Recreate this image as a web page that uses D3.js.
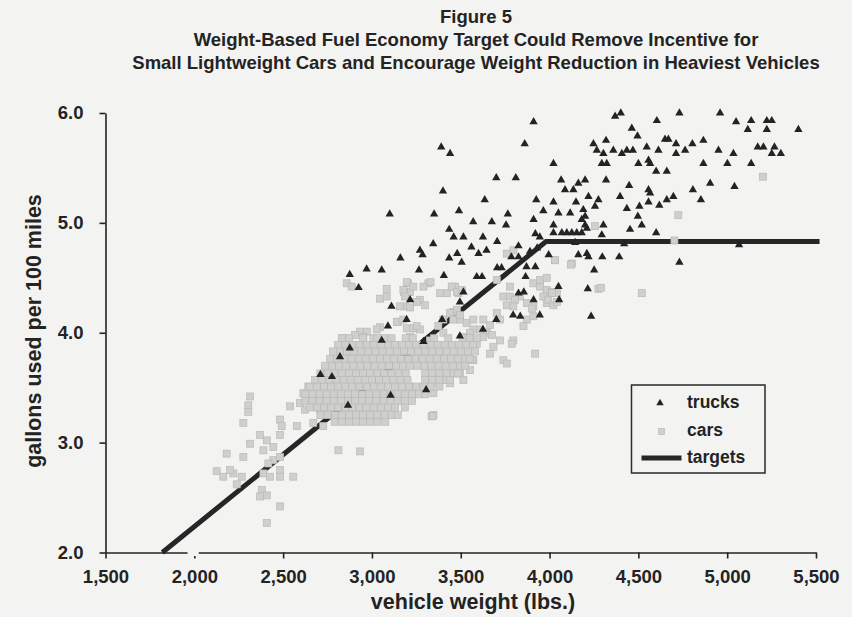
<!DOCTYPE html>
<html><head><meta charset="utf-8">
<script src="https://cdn.jsdelivr.net/npm/d3@7"></script>
<style>
html,body{margin:0;padding:0;background:#f3f3f1;}
svg{display:block;}
text{font-family:"Liberation Sans",Arial,sans-serif;fill:#232323;}
</style></head><body>
<svg id="c" width="852" height="617"></svg>
<script>
const titleLines = ["Figure 5",
  "Weight-Based Fuel Economy Target Could Remove Incentive for",
  "Small Lightweight Cars and Encourage Weight Reduction in Heaviest Vehicles"];
const xLabel = "vehicle weight (lbs.)";
const yLabel = "gallons used per 100 miles";
const xTicks = [1500,2000,2500,3000,3500,4000,4500,5000,5500];
const yTicks = [2,3,4,5,6];
const legendLabels = ["trucks","cars","targets"];

const targetWeights = [1820, 3980, 5520];
const targetValues  = [2.00, 4.83, 4.83];

const trucks = [
[3910,5.92],[3390,5.69],[3440,5.63],[3860,5.72],[3700,5.41],[3810,5.41],
[3400,5.29],[3635,5.21],[3925,5.21],[3100,5.08],[3350,5.08],[3490,5.11],[3765,5.08],[3965,5.11],[3910,5.03],
[3570,5.01],[3675,5.01],[3755,4.98],[3435,4.94],[3460,4.87],[3515,4.87],[3625,4.87],[3705,4.83],
[3345,4.81],[3560,4.78],[3645,4.75],[3825,4.79],[3270,4.75],[3285,4.71],[3480,4.72],[3600,4.72],
[3160,4.68],[3435,4.68],[3505,4.64],[3785,4.69],[3825,4.69],[3890,4.74],[3930,4.77],
[3920,4.90],[3945,4.87],[3995,4.71],
[2970,4.58],[3055,4.57],[3265,4.57],[3405,4.52],[3590,4.51],[3620,4.51],[3705,4.59],[3730,4.59],[3870,4.60],[3920,4.60],[3865,4.51],
[2875,4.53],[2925,4.41],[3515,4.37],[3825,4.36],[3855,4.37],
[3110,4.24],[3215,4.30],[3495,4.28],[3910,4.30],
[3795,4.16],[3835,4.15],[3945,4.16],[3700,4.12],
[3195,4.12],[3090,4.06],[3395,4.12],[3625,4.03],
[2875,3.86],[3290,3.92],[3495,3.97],[3055,3.93],
[2820,3.78],[2710,3.62],[2775,3.60],[3105,3.43],[3305,3.48],[2865,3.34],
[4369,5.97],[4401,6.00],[4604,5.93],[4731,6.00],[4960,6.00],[5050,5.92],[5135,5.93],[5223,5.93],[5251,5.93],[5223,5.85],[5116,5.85],[5401,5.85],
[4463,5.86],[4495,5.79],[4247,5.72],[4266,5.66],[4318,5.75],[4359,5.66],[4303,5.63],[4407,5.63],[4435,5.66],[4469,5.66],
[4547,5.69],[4613,5.66],[4650,5.76],[4669,5.76],[4712,5.72],[4712,5.63],[4763,5.66],[4804,5.72],[4866,5.75],
[4951,5.66],[5035,5.63],[5172,5.69],[5204,5.69],[5266,5.69],[5251,5.63],[5302,5.63],
[4294,5.54],[4322,5.54],[4500,5.54],[4557,5.57],[4566,5.54],[4022,5.54],
[4600,5.47],[4660,5.47],[4866,5.54],[5001,5.54],[5135,5.54],
[4065,5.39],[4087,5.30],[4134,5.30],[4162,5.36],[4200,5.39],[4318,5.39],[4448,5.34],[4557,5.30],[4566,5.27],[4807,5.30],[4904,5.36],[5041,5.33],
[4022,5.19],[4149,5.19],[4219,5.24],[4275,5.21],[4256,5.15],[4397,5.24],[4435,5.13],[4506,5.15],[4557,5.19],[4618,5.16],[4660,5.21],[4697,5.24],[4852,5.21],
[4050,5.09],[4116,5.09],[4190,5.12],[4200,5.06],[4181,5.03],[4497,5.06],
[4022,4.98],[4200,4.98],[4210,4.95],[4303,4.98],[4453,4.94],[4519,4.98],[4600,4.91],
[4022,4.91],[4069,4.91],[4097,4.91],[4125,4.91],[4153,4.91],[4181,4.91],[4294,4.89],
[4144,4.82],[4420,4.81],[5067,4.80],
[4162,4.71],[4210,4.72],[4219,4.69],[4297,4.69],[4392,4.69],[4731,4.64],[4251,4.57],
[4050,4.42],[4215,4.40],[4054,4.30],[4234,4.15]
];

// dense core of cars, as rows: [gallons, weights...]
const carCoreRows = [
 [3.95,[2830,2870,2950,3030,3070,3110,3190,3230,3350,3430,3510,3550,3590]],
 [3.89,[2810,2850,2890,2930,2970,3010,3050,3090,3130,3170,3210,3250,3290,3330,3370,3410,3450,3490,3530,3570]],
 [3.83,[2780,2820,2860,2900,2940,2980,3020,3060,3100,3140,3180,3220,3260,3300,3340,3380,3420,3460,3500,3540,3580]],
 [3.76,[2765,2805,2845,2885,2925,2965,3005,3045,3085,3125,3165,3205,3245,3285,3325,3365,3405,3445,3485,3525,3550]],
 [3.70,[2735,2775,2815,2855,2895,2935,2975,3015,3055,3095,3135,3175,3215,3255,3295,3335,3375,3415,3455,3495,3525]],
 [3.63,[2710,2750,2790,2830,2870,2910,2950,2990,3030,3070,3110,3150,3190,3300,3340,3380,3420,3460,3485]],
 [3.57,[2680,2720,2760,2800,2840,2880,2920,2960,3000,3040,3080,3120,3160,3200,3300,3340,3380,3420,3440]],
 [3.51,[2650,2690,2730,2770,2810,2850,2890,2930,2970,3010,3050,3090,3130,3170,3210,3250,3290,3330,3380]],
 [3.44,[2625,2665,2705,2745,2785,2825,2865,2905,2945,2985,3025,3065,3105,3145,3185,3225,3265,3300]],
 [3.38,[2625,2665,2705,2745,2785,2825,2865,2905,2945,2985,3025,3065,3105,3145,3185,3225]],
 [3.32,[2650,2690,2730,2770,2810,2850,2890,2930,2970,3010,3050,3090,3130,3185]],
 [3.25,[2710,2750,2790,2830,2870,2910,2950,2990,3030,3070,3110,3145]],
 [3.19,[2790,2830,2870,2910,2950,2990,3030,3075]]
];

const carsOther = [
[2858,4.45],[2886,4.42],[3083,4.40],[3046,4.31],[3203,4.45],[3215,4.37],[3181,4.37],[3318,4.45],[3290,4.42],[3384,4.36],[3421,4.36],[3468,4.42],[3487,4.36],[3271,4.30],[3186,4.24],[3215,4.23],[3149,4.10],[3196,4.04],[3243,4.04],[3271,4.03],[3046,4.05],[2933,4.01],[2971,4.01],[2905,3.98],[2952,3.96],[2839,3.95],[3008,3.95],[3046,3.92],[3458,4.19],[3496,4.12],[3533,4.09],[3571,4.12],[3571,4.03],[3552,3.96],[3590,3.90],[3533,3.87],[3571,3.75],
[3346,3.25],[2811,2.93],[2933,2.92],[2670,3.18],[2726,3.15],[2483,3.21],[2492,3.15],[2483,3.07],[2577,3.15],[2539,3.33],[2623,3.30],[2614,3.45],[2642,3.51],[2314,3.42],[2304,3.34],[2304,3.28],[2276,3.18],[2314,2.99],[2370,3.07],[2408,3.02],[2445,2.96],[2389,2.93],[2182,2.90],[2276,2.87],[2445,2.84],[2417,2.81],[2483,2.87],[2126,2.74],[2163,2.69],[2220,2.72],[2267,2.69],[2201,2.75],[2389,2.72],[2426,2.69],[2483,2.69],[2557,2.69],[2483,2.75],[2239,2.62],[2380,2.57],[2370,2.51],[2408,2.52],[2483,2.42],[2408,2.27],[3336,3.24],
[2708,3.30],[2661,3.39],[2746,3.54],[2595,3.36],[2708,3.40],
[3196,4.46],[3330,4.46],[3083,4.33],[3252,4.28],[3299,4.25],[3449,4.42],[3478,4.37],[3140,4.10],[3233,4.04],[3027,4.03],[3215,3.96],[3327,3.93],[3402,4.00],[3647,4.00],[3721,3.93],[3796,3.93],[3740,4.33],[3834,4.33],[3909,4.45],[3947,4.42],[3984,4.37],[4041,4.36],[3984,4.27],[3909,4.24],[3872,4.12],[3759,4.72],[3796,4.75],[4031,4.66],[4125,4.63],[3703,4.48],
[3778,4.42],[3947,4.48],[3984,4.50],[3984,4.39],[4013,4.37],[3965,4.33],[3993,4.30],[4022,4.25],[4041,4.28],[3872,4.27],[3900,4.22],[3778,4.33],[3806,4.30],[3759,4.25],[3796,4.24],[3703,4.18],[3721,4.12],[3909,4.15],[3853,4.06],[3665,4.07],[3675,3.98],[3627,3.96],[3552,4.00],[3524,3.96],[3787,3.90],[3740,3.75],[3759,3.72],[3919,3.81],[3665,3.81],[3684,3.87],[3562,3.75],[3552,3.66],[3496,3.63],[3515,3.57],[3440,3.54],[3402,3.57],[3355,3.54],[3346,3.45],[3233,3.48],[3196,3.45],[3215,3.51],[3342,3.24],[3487,3.65],[3609,4.03],[3627,4.12],[3177,4.39],[3233,4.42],[3186,4.33],[3507,4.39],[3158,4.24],[3177,4.12],[3252,4.06],[3440,4.18],[3478,4.21],[3496,4.16],[3458,4.12],[3402,4.12],[3374,4.06],[4275,4.40],
[5201,5.42],[4725,5.07],[4256,4.97],[4703,4.84],[4031,4.66],[4120,4.62],[4290,4.41],[4519,4.36],[4013,4.36]
];

const cars = carsOther.concat(...carCoreRows.map(r => r[1].map(w => [w, r[0]])));

const svg = d3.select("#c");
const x = d3.scaleLinear().domain([1500,5500]).range([105.5,816]);
const y = d3.scaleLinear().domain([2,6]).range([552.5,113]);
const ink = "#232323";
const carFill = "#cfcfcd", carEdge = "#b9b9b7";

// title
svg.append("g").selectAll("text").data(titleLines).join("text")
  .attr("x", 476).attr("y", (d,i) => 23 + i*23)
  .attr("text-anchor","middle").attr("font-weight","bold").attr("font-size", 18.5)
  .text(d => d);

// target line (drawn below markers)
const lineData = targetWeights.map((w,i) => [w, targetValues[i]]);
svg.append("path").datum(lineData)
  .attr("d", d3.line().x(d => x(d[0])).y(d => y(d[1])))
  .attr("fill","none").attr("stroke","#262626").attr("stroke-width",5);

// cars
svg.append("g").selectAll("rect").data(cars).join("rect")
  .attr("x", d => x(d[0]) - 3.5).attr("y", d => y(d[1]) - 3.5)
  .attr("width", 7).attr("height", 7)
  .attr("fill", carFill).attr("stroke", carEdge).attr("stroke-width", 0.7);

// trucks
const tri = d3.symbol().type(d3.symbolTriangle).size(30);
svg.append("g").selectAll("path").data(trucks).join("path")
  .attr("transform", d => `translate(${x(d[0])},${y(d[1])})`)
  .attr("d", tri).attr("fill", ink);

// axes
const yAxis = svg.append("g").attr("transform", `translate(${x(1500)},0)`)
  .call(d3.axisLeft(y).tickValues(yTicks).tickFormat(d3.format(".1f")).tickSize(6).tickSizeOuter(0).tickPadding(16));
const xAxis = svg.append("g").attr("transform", `translate(0,${y(2)})`)
  .call(d3.axisBottom(x).tickValues(xTicks).tickFormat(d3.format(",")).tickSize(6).tickSizeOuter(0).tickPadding(11));
[yAxis, xAxis].forEach(a => {
  a.selectAll("path,line").attr("stroke", ink).attr("stroke-width", 1.6);
  a.selectAll("text").attr("font-size", 18.5).attr("font-weight","bold")
    .attr("font-family", '"Liberation Sans",Arial,sans-serif').attr("fill", ink);
});
// scan gap in the x axis line near 2,000
svg.append("rect").attr("x", x(1962)).attr("y", y(2) - 3).attr("width", x(2025) - x(1962)).attr("height", 6.5)
  .attr("fill", "#f3f3f1");

// axis titles
svg.append("text").attr("x", 473).attr("y", 609).attr("text-anchor","middle")
  .attr("font-size", 21.5).attr("font-weight","bold").text(xLabel);
svg.append("text").attr("transform", "translate(41,331) rotate(-90)").attr("text-anchor","middle")
  .attr("font-size", 21.5).attr("font-weight","bold").text(yLabel);

// legend
const lg = svg.append("g");
lg.append("rect").attr("x", 631.5).attr("y", 385).attr("width", 133.5).attr("height", 88)
  .attr("fill","none").attr("stroke","#2a2a2a").attr("stroke-width",1.5);
lg.append("path").attr("transform","translate(660,403)").attr("d", d3.symbol().type(d3.symbolTriangle).size(24)).attr("fill", ink);
lg.append("rect").attr("x", 658.5).attr("y", 428.5).attr("width", 6).attr("height", 6)
  .attr("fill", carFill).attr("stroke", carEdge).attr("stroke-width", 0.7);
lg.append("line").attr("x1", 641.5).attr("x2", 681.5).attr("y1", 458).attr("y2", 458)
  .attr("stroke", "#262626").attr("stroke-width", 5);
lg.selectAll("text").data(legendLabels).join("text")
  .attr("x", 687).attr("y", (d,i) => 408 + i*27.5)
  .attr("font-size", 17.5).attr("font-weight","bold").text(d => d);
</script>
</body></html>
